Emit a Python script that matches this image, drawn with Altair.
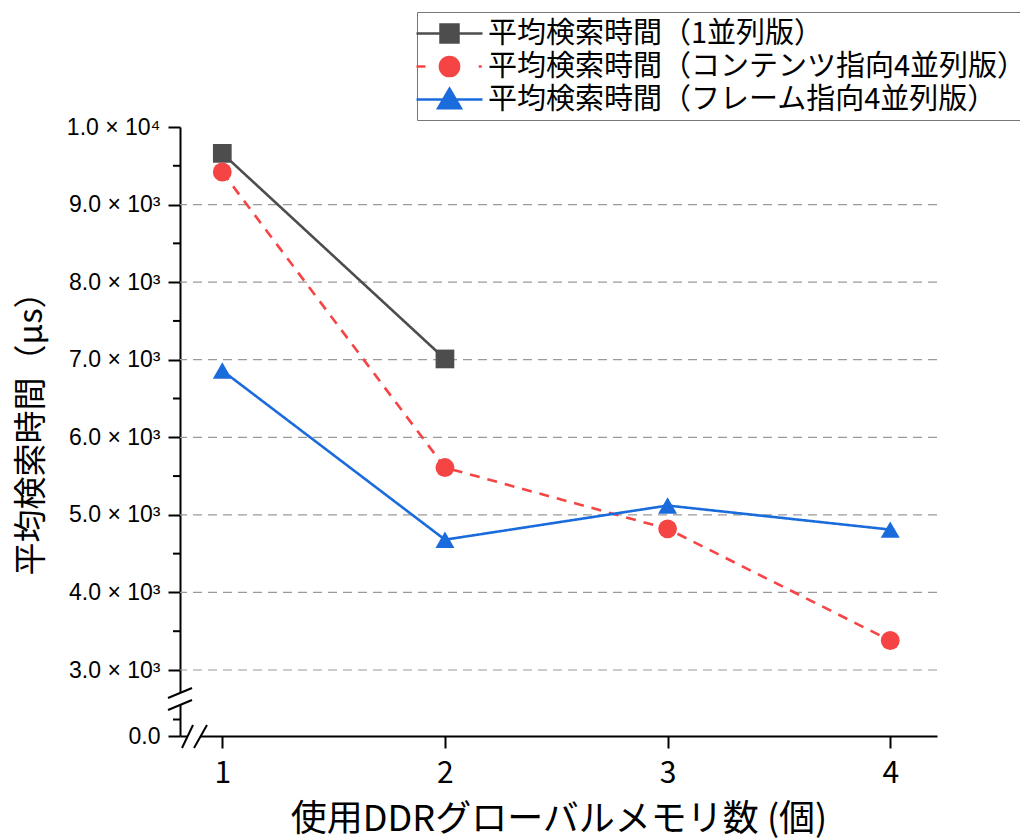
import altair as alt
import pandas as pd

series_names = [
    "平均検索時間（1並列版）",
    "平均検索時間（コンテンツ指向4並列版）",
    "平均検索時間（フレーム指向4並列版）",
]
series_colors = ["#4d4d4d", "#f54444", "#1a6bdc"]
x_values = [1, 2, 3, 4]
s1_values = [9660, 7010]
s2_values = [9420, 5610, 4820, 3380]
s3_values = [6860, 4680, 5120, 4810]

y_ticks = [0, 3000, 4000, 5000, 6000, 7000, 8000, 9000, 10000]
grid_values = [3000, 4000, 5000, 6000, 7000, 8000, 9000]
minor_ticks = [750, 3500, 4500, 5500, 6500, 7500, 8500, 9500]
x_ticks = [1, 2, 3, 4]

rows = []
for name, vals in zip(series_names, [s1_values, s2_values, s3_values]):
    for xv, yv in zip(x_values, vals):
        rows.append({"series": name, "x": xv, "y": yv})
df = pd.DataFrame(rows)

W, H = 757, 609
yscale = alt.Scale(domain=[0, 3000, 10000], range=[H, 543, 0], zero=False, nice=False)
xscale = alt.Scale(domain=[0.81, 4.21], zero=False, nice=False)


def cscale():
    return alt.Scale(domain=series_names, range=series_colors)


# legend symbols: line segment + marker, as custom SVG paths (1 unit = 15 px)
P1 = "M-2.2,0H2.2M-0.6,-0.6H0.6V0.6H-0.6Z"
P2 = ("M-2.2,0H-1.6M1.95,0H2.15M0.64,0A0.64,0.64,0,1,1,-0.64,0"
      "A0.64,0.64,0,1,1,0.64,0Z")
P3 = "M-2.2,0H2.2M0,-0.72L0.76,0.58H-0.76Z"

legend = alt.Legend(
    title=None,
    orient="none",
    legendX=237,
    legendY=-115,
    labelFont="Noto Sans CJK JP",
    labelFontSize=29,
    labelColor="black",
    labelLimit=900,
    labelOffset=22,
    symbolSize=900,
    symbolOffset=11,
    symbolStrokeWidth=2.5,
    symbolFillColor="#000000",
    symbolOpacity=1,
    rowPadding=1,
    padding=5,
    strokeColor="#777777",
    fillColor="white",
)

y_axis = alt.Axis(
    values=y_ticks,
    labelExpr="datum.value == 0 ? '0.0' : datum.value == 10000 ? '1.0 × 10⁴' : format(datum.value/1000, '.1f') + ' × 10³'",
    labelFont="Liberation Sans",
    labelFontSize=23,
    labelColor="black",
    labelPadding=8,
    tickSize=12,
    tickWidth=2,
    tickColor="black",
    domainColor="black",
    domainWidth=2,
    grid=False,
    title="平均検索時間（μs）",
    titleFont="Noto Sans CJK JP",
    titleFontSize=33,
    titleFontWeight="normal",
    titleColor="black",
    titlePadding=18,
    titleY=298,
)
x_axis = alt.Axis(
    values=x_ticks,
    format="d",
    labelFont="Liberation Sans Narrow, Noto Sans CJK JP",
    labelFontSize=30,
    labelColor="black",
    labelPadding=10,
    tickSize=12,
    tickWidth=2,
    tickColor="black",
    domainColor="black",
    domainWidth=2,
    grid=False,
    title="使用DDRグローバルメモリ数 (個)",
    titleFont="Noto Sans CJK JP",
    titleFontSize=36,
    titleFontWeight="normal",
    titleColor="black",
    titlePadding=14,
)

base = alt.Chart(df)

lines = base.mark_line(strokeWidth=2.6).encode(
    x=alt.X("x:Q", scale=xscale, axis=x_axis),
    y=alt.Y("y:Q", scale=yscale, axis=y_axis),
    color=alt.Color("series:N", scale=cscale(), legend=None),
    strokeDash=alt.StrokeDash(
        "series:N",
        scale=alt.Scale(domain=series_names, range=[[1, 0], [10, 8], [1, 0]]),
        legend=None,
    ),
    detail="series:N",
)

points = base.mark_point(filled=True, opacity=1).encode(
    x=alt.X("x:Q", scale=xscale),
    y=alt.Y("y:Q", scale=yscale),
    color=alt.Color("series:N", scale=cscale(), legend=None),
    shape=alt.Shape(
        "series:N",
        scale=alt.Scale(domain=series_names, range=["square", "circle", "triangle-up"]),
        legend=None,
    ),
    size=alt.Size(
        "series:N",
        scale=alt.Scale(domain=series_names, range=[350, 360, 480]),
        legend=None,
    ),
)

# invisible layer that only carries the legend (line + marker symbols)
legend_layer = base.mark_point(filled=True, opacity=0).encode(
    x=alt.X("x:Q", scale=xscale),
    y=alt.Y("y:Q", scale=yscale),
    fill=alt.Fill("series:N", scale=cscale(), legend=legend),
    stroke=alt.Stroke("series:N", scale=cscale(), legend=legend),
    shape=alt.Shape(
        "series:N",
        scale=alt.Scale(domain=series_names, range=[P1, P2, P3]),
        legend=legend,
    ),
)

grid = alt.Chart(pd.DataFrame({"g": grid_values})).mark_rule(
    color="#9a9a9a", strokeWidth=1.2, strokeDash=[9, 6]
).encode(y=alt.Y("g:Q", scale=yscale))

minor = alt.Chart(pd.DataFrame({"m": minor_ticks})).mark_rule(
    color="black", strokeWidth=2
).encode(y=alt.Y("m:Q", scale=yscale), x=alt.value(-7), x2=alt.value(0))

one = pd.DataFrame({"a": [0]})


def seg(x1, y1, x2, y2, color="black", w=2):
    return alt.Chart(one).mark_rule(color=color, strokeWidth=w).encode(
        x=alt.value(x1), y=alt.value(y1), x2=alt.value(x2), y2=alt.value(y2)
    )


breaks = (
    seg(0, 566, 0, 578, color="white", w=5)
    + seg(8, H, 20, H, color="white", w=5)
    + seg(-12, 571, 12, 561)
    + seg(-12, 583, 12, 573)
    + seg(2, H + 12, 13, H - 11)
    + seg(14, H + 12, 27, H - 11)
)

chart = (
    alt.layer(grid, minor, breaks, lines, points, legend_layer)
    .resolve_scale(color="independent", shape="independent", fill="independent",
                   stroke="independent", size="independent", strokeDash="independent")
    .properties(
        width=W,
        height=H,
        padding={"left": 172, "top": 119, "right": 83, "bottom": 103},
        autosize="none",
    )
    .configure_view(strokeWidth=0)
)

chart.save("out.html", embed_options={"renderer": "svg", "actions": False})
